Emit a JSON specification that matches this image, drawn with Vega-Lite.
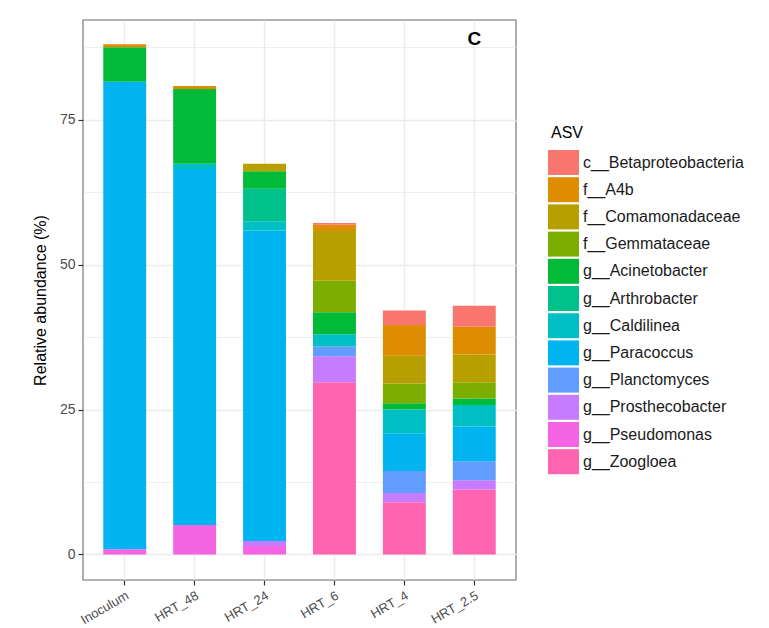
{
  "$schema": "https://vega.github.io/schema/vega-lite/v6.json",
  "width": 433,
  "height": 560,
  "autosize": {"type": "none"},
  "padding": {"left": 83, "top": 20, "right": 253, "bottom": 48},
  "background": "white",
  "config": {
    "font": "Liberation Sans",
    "view": {"stroke": "#9a9a9a", "strokeWidth": 1.6}
  },
  "layer": [
    {
      "data": {
        "values": [
          {"sample": "Inoculum", "ASV": "g__Pseudomonas", "abundance": 0.9},
          {"sample": "Inoculum", "ASV": "g__Paracoccus", "abundance": 80.65},
          {"sample": "Inoculum", "ASV": "g__Acinetobacter", "abundance": 5.95},
          {"sample": "Inoculum", "ASV": "f__A4b", "abundance": 0.5},

          {"sample": "HRT_48", "ASV": "g__Pseudomonas", "abundance": 5.1},
          {"sample": "HRT_48", "ASV": "g__Paracoccus", "abundance": 61.4},
          {"sample": "HRT_48", "ASV": "g__Caldilinea", "abundance": 0.9},
          {"sample": "HRT_48", "ASV": "g__Acinetobacter", "abundance": 12.9},
          {"sample": "HRT_48", "ASV": "f__A4b", "abundance": 0.5},

          {"sample": "HRT_24", "ASV": "g__Pseudomonas", "abundance": 1.47},
          {"sample": "HRT_24", "ASV": "g__Prosthecobacter", "abundance": 0.86},
          {"sample": "HRT_24", "ASV": "g__Paracoccus", "abundance": 53.57},
          {"sample": "HRT_24", "ASV": "g__Caldilinea", "abundance": 1.6},
          {"sample": "HRT_24", "ASV": "g__Arthrobacter", "abundance": 5.6},
          {"sample": "HRT_24", "ASV": "g__Acinetobacter", "abundance": 3.0},
          {"sample": "HRT_24", "ASV": "f__Comamonadaceae", "abundance": 1.3},

          {"sample": "HRT_6", "ASV": "g__Zoogloea", "abundance": 29.7},
          {"sample": "HRT_6", "ASV": "g__Prosthecobacter", "abundance": 4.5},
          {"sample": "HRT_6", "ASV": "g__Planctomyces", "abundance": 1.7},
          {"sample": "HRT_6", "ASV": "g__Caldilinea", "abundance": 2.1},
          {"sample": "HRT_6", "ASV": "g__Acinetobacter", "abundance": 3.8},
          {"sample": "HRT_6", "ASV": "f__Gemmataceae", "abundance": 5.4},
          {"sample": "HRT_6", "ASV": "f__Comamonadaceae", "abundance": 8.6},
          {"sample": "HRT_6", "ASV": "f__A4b", "abundance": 1.1},
          {"sample": "HRT_6", "ASV": "c__Betaproteobacteria", "abundance": 0.3},

          {"sample": "HRT_4", "ASV": "g__Zoogloea", "abundance": 9.0},
          {"sample": "HRT_4", "ASV": "g__Prosthecobacter", "abundance": 1.6},
          {"sample": "HRT_4", "ASV": "g__Planctomyces", "abundance": 3.8},
          {"sample": "HRT_4", "ASV": "g__Paracoccus", "abundance": 6.5},
          {"sample": "HRT_4", "ASV": "g__Caldilinea", "abundance": 4.1},
          {"sample": "HRT_4", "ASV": "g__Acinetobacter", "abundance": 1.1},
          {"sample": "HRT_4", "ASV": "f__Gemmataceae", "abundance": 3.4},
          {"sample": "HRT_4", "ASV": "f__Comamonadaceae", "abundance": 4.8},
          {"sample": "HRT_4", "ASV": "f__A4b", "abundance": 5.3},
          {"sample": "HRT_4", "ASV": "c__Betaproteobacteria", "abundance": 2.5},

          {"sample": "HRT_2.5", "ASV": "g__Zoogloea", "abundance": 11.2},
          {"sample": "HRT_2.5", "ASV": "g__Prosthecobacter", "abundance": 1.6},
          {"sample": "HRT_2.5", "ASV": "g__Planctomyces", "abundance": 3.3},
          {"sample": "HRT_2.5", "ASV": "g__Paracoccus", "abundance": 6.0},
          {"sample": "HRT_2.5", "ASV": "g__Caldilinea", "abundance": 3.7},
          {"sample": "HRT_2.5", "ASV": "g__Acinetobacter", "abundance": 1.1},
          {"sample": "HRT_2.5", "ASV": "f__Gemmataceae", "abundance": 2.8},
          {"sample": "HRT_2.5", "ASV": "f__Comamonadaceae", "abundance": 4.8},
          {"sample": "HRT_2.5", "ASV": "f__A4b", "abundance": 4.8},
          {"sample": "HRT_2.5", "ASV": "c__Betaproteobacteria", "abundance": 3.6}
        ]
      },
      "mark": {"type": "bar"},
      "encoding": {
        "x": {
          "field": "sample",
          "type": "nominal",
          "sort": ["Inoculum", "HRT_48", "HRT_24", "HRT_6", "HRT_4", "HRT_2.5"],
          "scale": {"paddingInner": 0.386, "paddingOuter": 0.29},
          "axis": {
            "title": null,
            "labelAngle": -30,
            "labelFontSize": 13,
            "labelColor": "#4d4d4d",
            "labelPadding": 4,
            "labelLimit": 0,
            "tickSize": 5,
            "tickColor": "#333333",
            "tickWidth": 1.2,
            "domain": false,
            "grid": true,
            "gridColor": "#ebebeb",
            "gridWidth": 1.4,
            "bandPosition": 0.5
          }
        },
        "y": {
          "field": "abundance",
          "type": "quantitative",
          "stack": "zero",
          "scale": {"domain": [-4.4, 92.2], "nice": false, "zero": false},
          "axis": {
            "title": "Relative abundance (%)",
            "titleFontSize": 16,
            "titleFontWeight": "normal",
            "titleColor": "#000000",
            "titlePadding": 11,
            "values": [0, 12.5, 25, 37.5, 50, 62.5, 75, 87.5],
            "labelExpr": "datum.value % 25 === 0 ? datum.label : ''",
            "labelOverlap": false,
            "labelFontSize": 14,
            "labelColor": "#4d4d4d",
            "labelPadding": 3,
            "tickSize": 5,
            "tickWidth": 1.2,
            "tickColor": {"condition": {"test": "datum.value % 25 !== 0", "value": "transparent"}, "value": "#333333"},
            "domain": false,
            "grid": true,
            "gridColor": "#ebebeb",
            "gridWidth": {"condition": {"test": "datum.value % 25 !== 0", "value": 0.8}, "value": 1.4}
          }
        },
        "color": {
          "field": "ASV",
          "type": "nominal",
          "scale": {
            "domain": ["c__Betaproteobacteria", "f__A4b", "f__Comamonadaceae", "f__Gemmataceae", "g__Acinetobacter", "g__Arthrobacter", "g__Caldilinea", "g__Paracoccus", "g__Planctomyces", "g__Prosthecobacter", "g__Pseudomonas", "g__Zoogloea"],
            "range": ["#F8766D", "#DE8C00", "#B79F00", "#7CAE00", "#00BA38", "#00C08B", "#00BFC4", "#00B4F0", "#619CFF", "#C77CFF", "#F564E3", "#FF64B0"]
          },
          "legend": {
            "title": "ASV",
            "orient": "none",
            "legendX": 468,
            "legendY": 105,
            "padding": 0,
            "titleFontSize": 16,
            "titleFontWeight": "normal",
            "titleColor": "#000000",
            "titlePadding": 9,
            "labelFontSize": 16,
            "labelColor": "#1a1a1a",
            "labelOffset": 7,
            "labelLimit": 0,
            "symbolType": "M-1.24,-1H1.24V1H-1.24Z",
            "symbolSize": 625,
            "symbolStrokeWidth": 0,
            "symbolOpacity": 1,
            "rowPadding": 2.2
          }
        },
        "order": {"field": "ASV", "sort": "descending"}
      }
    },
    {
      "data": {"values": [{"panel": "C"}]},
      "mark": {"type": "text", "fontSize": 19, "fontWeight": "bold", "color": "#000000", "baseline": "middle", "align": "center"},
      "encoding": {
        "x": {"datum": "HRT_2.5", "type": "nominal"},
        "y": {"datum": 89, "type": "quantitative"},
        "text": {"field": "panel", "type": "nominal"}
      }
    }
  ]
}
